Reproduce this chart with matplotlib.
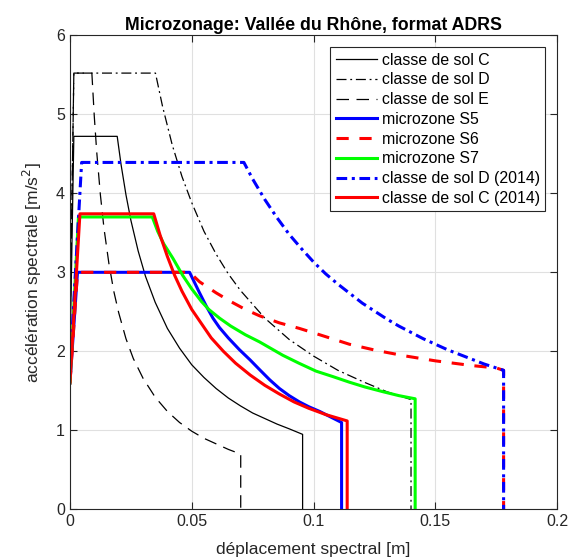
import matplotlib
matplotlib.use("Agg")
import matplotlib.pyplot as plt

plt.rcParams['font.family'] = ['Liberation Sans', 'DejaVu Sans']

# valeurs (Sd en m, Sa en m/s2)
sd_C = [0, 0.0016, 0.0194, 0.021, 0.023, 0.025, 0.028, 0.031, 0.035, 0.04, 0.045, 0.05,
        0.055, 0.06, 0.065, 0.07, 0.075, 0.08, 0.085, 0.09, 0.0955, 0.0955]
sa_C = [1.9, 4.72, 4.72, 4.36, 3.98, 3.66, 3.27, 2.95, 2.62, 2.29, 2.04, 1.83,
        1.67, 1.53, 1.41, 1.31, 1.22, 1.15, 1.08, 1.02, 0.95, 0]

sd_D = [0, 0.0016, 0.0351, 0.038, 0.042, 0.046, 0.05, 0.055, 0.06, 0.065, 0.07, 0.08,
        0.09, 0.1, 0.11, 0.12, 0.13, 0.140, 0.140]
sa_D = [2.2, 5.52, 5.52, 5.10, 4.61, 4.21, 3.88, 3.52, 3.23, 2.98, 2.77, 2.42,
        2.15, 1.94, 1.76, 1.62, 1.49, 1.39, 0]

sd_E = [0, 0.0016, 0.009, 0.010, 0.011, 0.0125, 0.014, 0.016, 0.018, 0.02, 0.023, 0.026,
        0.03, 0.035, 0.04, 0.045, 0.05, 0.055, 0.06, 0.065, 0.0701, 0.0701]
sa_E = [2.2, 5.52, 5.52, 4.97, 4.52, 3.98, 3.55, 3.11, 2.76, 2.49, 2.16, 1.91,
        1.66, 1.42, 1.24, 1.10, 0.99, 0.90, 0.83, 0.76, 0.70, 0]

sd_S5 = [0, 0.0031, 0.0491, 0.051, 0.0532, 0.056, 0.0587, 0.0614, 0.065, 0.0696, 0.074,
         0.0778, 0.082, 0.086, 0.09, 0.0942, 0.098, 0.1025, 0.107, 0.1115, 0.1115]
sa_S5 = [1.6, 3.0, 3.0, 2.88, 2.74, 2.57, 2.42, 2.30, 2.17, 2.02, 1.89,
         1.77, 1.64, 1.53, 1.44, 1.36, 1.30, 1.24, 1.17, 1.10, 0]

sd_S6 = [0, 0.0031, 0.0491, 0.0532, 0.06, 0.066, 0.072, 0.0778, 0.086, 0.0942, 0.1025,
         0.1147, 0.126, 0.138, 0.15, 0.165, 0.175, 0.178, 0.178]
sa_S6 = [1.6, 3.0, 3.0, 2.88, 2.74, 2.63, 2.53, 2.45, 2.36, 2.29, 2.21,
         2.09, 2.01, 1.94, 1.88, 1.82, 1.79, 1.76, 0]

sd_S7 = [0, 0.0035, 0.0338, 0.036, 0.0385, 0.0422, 0.0463, 0.05, 0.054, 0.057, 0.0614,
         0.066, 0.072, 0.0778, 0.0874, 0.094, 0.101, 0.108, 0.1147, 0.121, 0.1284,
         0.135, 0.1417, 0.1417]
sa_S7 = [1.6, 3.70, 3.70, 3.52, 3.36, 3.18, 2.96, 2.79, 2.63, 2.53, 2.42,
         2.32, 2.21, 2.12, 1.95, 1.85, 1.75, 1.68, 1.61, 1.55, 1.49,
         1.44, 1.40, 0]

sd_D14 = [0, 0.0048, 0.0714, 0.075, 0.08, 0.085, 0.09, 0.095, 0.1, 0.105, 0.11, 0.115,
          0.12, 0.125, 0.13, 0.135, 0.14, 0.145, 0.15, 0.155, 0.16, 0.165, 0.17,
          0.175, 0.178, 0.178]
sa_D14 = [1.76, 4.39, 4.39, 4.18, 3.92, 3.69, 3.48, 3.30, 3.13, 2.98, 2.85, 2.73,
          2.61, 2.51, 2.41, 2.32, 2.24, 2.16, 2.09, 2.02, 1.96, 1.90, 1.84,
          1.79, 1.76, 0]

sd_C14 = [0, 0.0041, 0.0344, 0.037, 0.04, 0.043, 0.046, 0.05, 0.054, 0.058, 0.063,
          0.068, 0.074, 0.08, 0.086, 0.092, 0.098, 0.105, 0.1138, 0.1138]
sa_C14 = [1.6, 3.74, 3.74, 3.47, 3.20, 2.96, 2.76, 2.53, 2.35, 2.17, 2.00,
          1.85, 1.70, 1.57, 1.46, 1.36, 1.28, 1.20, 1.12, 0]

fig = plt.figure(figsize=(5.78, 5.58), dpi=100)
ax = fig.add_axes([0.121, 0.087, 0.843, 0.850])

ax.plot(sd_C, sa_C, color='k', lw=0.9, label='classe de sol C')
ax.plot(sd_D, sa_D, color='k', lw=0.9, ls=(0, (8, 3, 1.5, 3)), label='classe de sol D')
ax.plot(sd_E, sa_E, color='k', lw=0.9, ls=(0, (10, 6)), label='classe de sol E')
ax.plot(sd_S5, sa_S5, color='#0000ff', lw=2.2, label='microzone S5')
ax.plot(sd_S6, sa_S6, color='#ff0000', lw=2.2, ls=(0, (4, 3.5)), label='microzone S6')
ax.plot(sd_S7, sa_S7, color='#00ff00', lw=2.2, label='microzone S7')
ax.plot(sd_D14, sa_D14, color='#0000ff', lw=2.2, ls=(0, (3.5, 1.5, 1, 1.5)), label='classe de sol D (2014)')
ax.plot(sd_C14, sa_C14, color='#ff0000', lw=2.2, label='classe de sol C (2014)')

ax.set_xlim(0, 0.2)
ax.set_ylim(0, 6)
ax.set_xticks([0, 0.05, 0.1, 0.15, 0.2])
ax.set_xticklabels(['0', '0.05', '0.1', '0.15', '0.2'])
ax.set_yticks(range(7))
ax.grid(True, color='#e0e0e0', lw=0.8)
ax.set_axisbelow(True)
ax.tick_params(direction='in', top=True, right=True, labelsize=11.5, colors='#262626', length=5)
for s in ax.spines.values():
    s.set_color('#262626')
    s.set_linewidth(0.8)

ax.set_xlabel('déplacement spectral [m]', fontsize=12.5, color='#262626', labelpad=9)
ax.set_ylabel('accélération spectrale [m/s$^2$]', fontsize=12.5, color='#262626', labelpad=9)
ax.set_title('Microzonage: Vallée du Rhône, format ADRS', fontsize=12.8, fontweight='bold', pad=4)

leg = ax.legend(loc='upper right', fontsize=11.4, fancybox=False, framealpha=1,
                edgecolor='#262626', borderpad=0.35, handlelength=2.6, handletextpad=0.3,
                labelspacing=0.3, borderaxespad=0.75)
leg.get_frame().set_linewidth(0.8)

fig.savefig('out.png', dpi=100)
